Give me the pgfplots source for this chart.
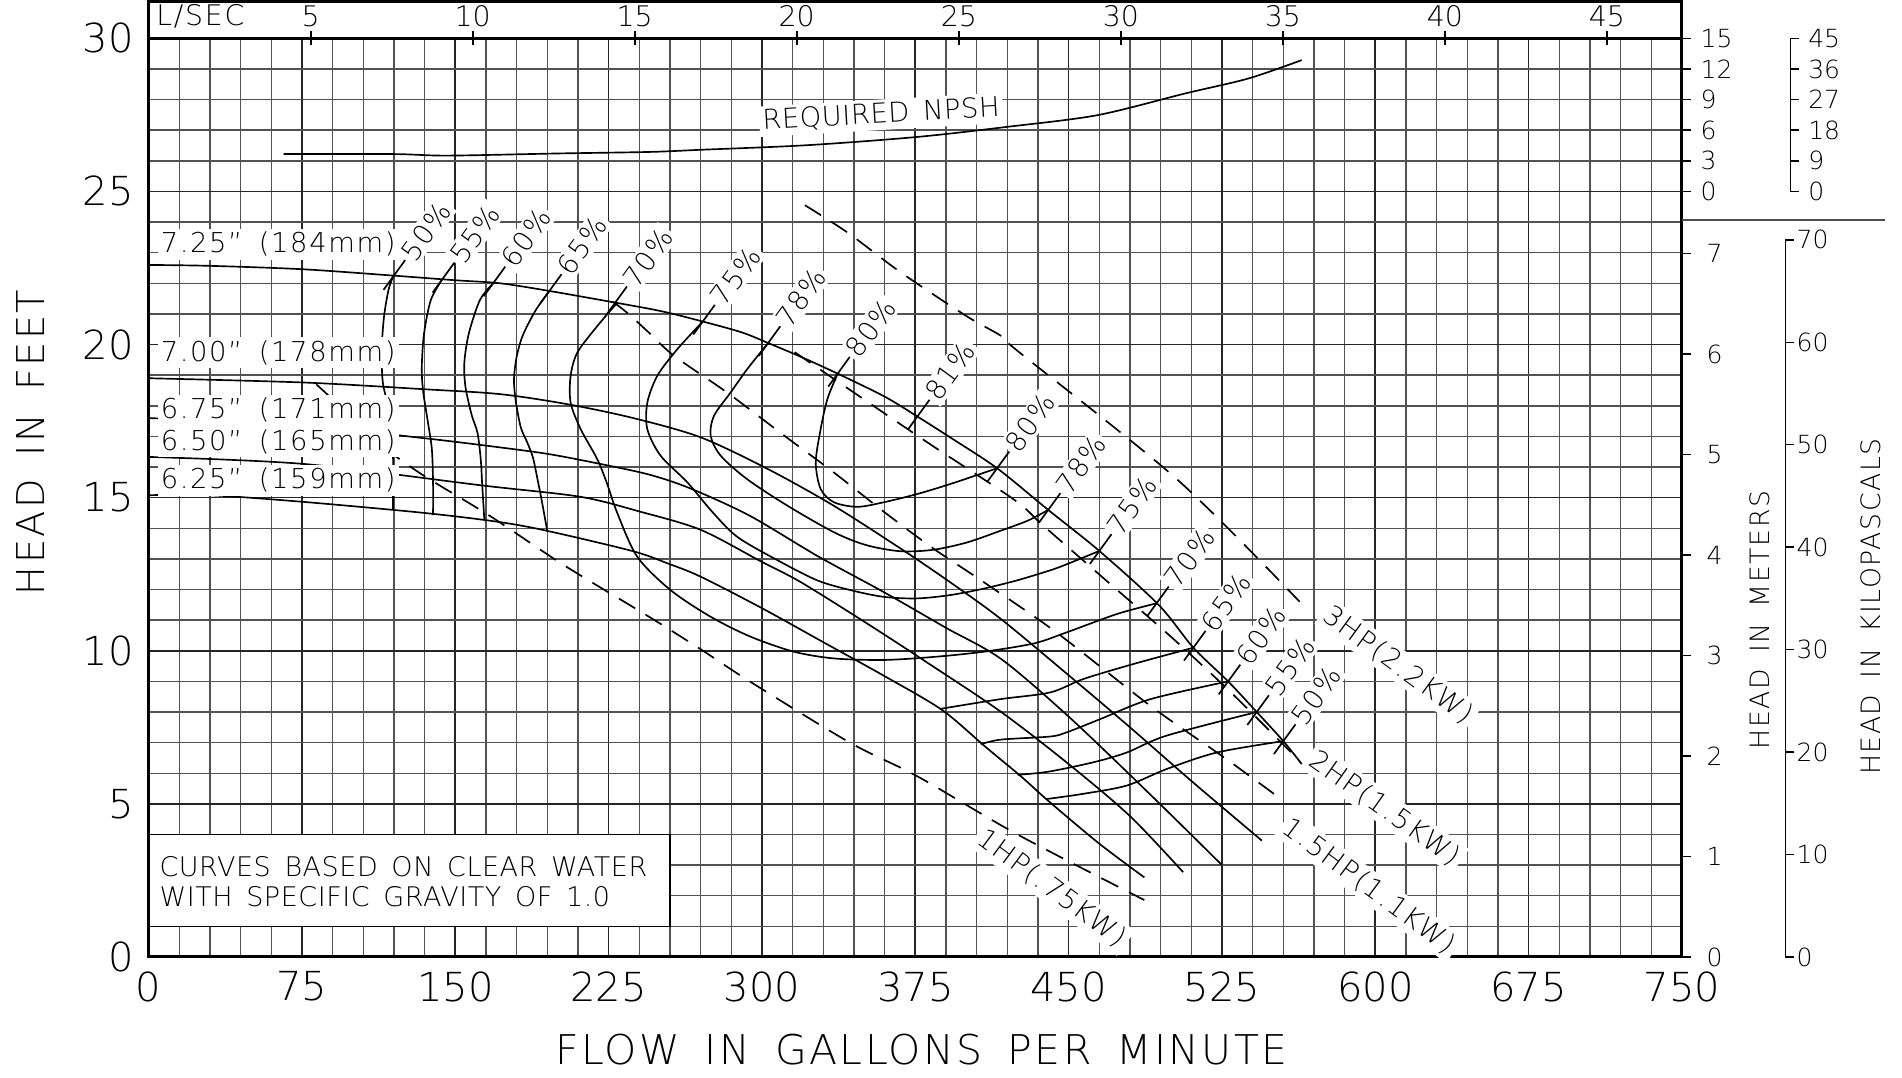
\documentclass[border=0pt]{standalone}
\usepackage{fontspec}
\setmainfont{DejaVuSans-ExtraLight}[Extension=.ttf]
\newfontfamily\lbl{DejaVuSans-ExtraLight}[Extension=.ttf, LetterSpace=6, WordSpace=1.6]
\newfontfamily\lbs{DejaVuSans-ExtraLight}[Extension=.ttf, LetterSpace=2, WordSpace=1.5]
\usepackage{pgfplots}
\pgfplotsset{compat=1.18}

\tikzset{
  curve/.style={black, line width=0.5pt},
  pw/.style={black, line width=0.5pt, dash pattern=on 5.7pt off 3.6pt},
  efflabel/.style={rotate=54, anchor=west, fill=white, inner sep=0.8pt, font=\lbl\fontsize{8.2}{9}\selectfont},
  pwlabel/.style={fill=white, inner sep=1pt, font=\lbl\fontsize{8.2}{9}\selectfont},
  dialabel/.style={anchor=west, fill=white, inner sep=1pt, font=\lbl\fontsize{8.2}{9}\selectfont},
  rlab/.style={anchor=west, inner sep=0pt, font=\fontsize{7.5}{8}\selectfont},
}
% efficiency tick across the 7.25" curve, label along it
\newcommand{\eff}[3]{\draw[curve] (axis cs:#1,#2) ++(234:4.8pt) -- ++(54:11pt) node[efflabel]{#3\%};}
% L/SEC tick on the top edge
\newcommand{\topt}[2]{\draw[line width=0.5pt] ([yshift=-2.1pt]axis cs:#1,30) -- ([yshift=2.1pt]axis cs:#1,30) node[above, inner sep=1pt, font=\fontsize{8.5}{9}\selectfont]{#2};}
% right-hand scale tick: head ft, line shift, label shift, text
\newcommand{\rt}[4]{\draw[line width=0.45pt] ([xshift=#2]axis cs:750,#1) -- ++(2.6pt,0); \node[rlab] at ([xshift=#3]axis cs:750,#1) {#4};}

\begin{document}
\begin{tikzpicture}
\useasboundingbox (-44.6pt,-36.3pt) rectangle (526pt,287.1pt);
\begin{axis}[
  scale only axis, width=460pt, height=275.6pt,
  xmin=0, xmax=750, ymin=0, ymax=30,
  xtick={0,75,...,750}, ytick={0,5,...,30},
  minor x tick num=4, minor y tick num=4,
  grid=both,
  major grid style={black!85, line width=0.5pt},
  minor grid style={black!68, line width=0.45pt},
  major tick length=0pt, minor tick length=0pt,
  axis line style={line width=0.9pt},
  clip=false,
  /pgf/number format/assume math mode=true,
  ticklabel style={font=\fontsize{12}{12}\selectfont},
  xticklabel style={yshift=-0.8pt},
  yticklabel style={xshift=-1pt},
]

% ---- head curves by impeller diameter
\addplot[curve, smooth] coordinates {(0,22.60) (30,22.57) (75,22.46) (120,22.25) (150,22.10) (172,22.00) (196,21.75) (224,21.42) (250,21.10) (270,20.77) (290,20.40) (303,20.05) (319,19.60) (337,19.05) (360,18.30) (376,17.65) (392,16.97) (415,15.96) (440,14.60) (465,13.26) (494,11.50) (511,10.10) (528,9.00) (542,8.00) (555,7.05) (564,6.30)};
\addplot[curve, smooth] coordinates {(0,18.90) (76,18.76) (135,18.54) (172,18.38) (205,18.05) (237,17.60) (270,16.97) (303,15.93) (335,14.74) (368,13.33) (392,12.24) (417,11.03) (450,9.20) (480,7.50) (510,5.75) (544.5,3.80)};
\addplot[curve, smooth] coordinates {(0,17.60) (76,17.35) (135,16.94) (172,16.64) (196,16.42) (221,16.10) (245,15.75) (265,15.30) (294,14.41) (327,13.10) (360,11.90) (390,10.75) (417,9.73) (450,7.85) (490,5.30) (525,3.00)};
\addplot[curve, smooth] coordinates {(0,16.33) (76,16.10) (163,15.40) (211,15.03) (240,14.55) (270,13.95) (300,12.90) (319,12.24) (350,10.95) (380,9.65) (417,8.00) (450,6.30) (480,4.60) (506,2.77)};
\addplot[curve, smooth] coordinates {(0,15.08) (30,15.08) (76,14.86) (135,14.50) (172,14.20) (196,13.90) (237,13.25) (254,12.85) (270,12.42) (300,11.39) (330,10.28) (360,9.17) (388,8.07) (409,6.88) (427,5.88) (440,5.10) (465,3.70) (487,2.60)};

% ---- required NPSH
\addplot[curve, smooth] coordinates {(66,26.22) (120,26.22) (146,26.17) (200,26.24) (245,26.29) (270,26.36) (322,26.51) (376,26.78) (420,27.11) (464,27.49) (507,28.20) (538,28.69) (564,29.29)};

% ---- efficiency contours
\addplot[curve, smooth] coordinates {(119.5,22.21) (117.3,21.78) (115.1,20.90) (114.0,19.82) (114.6,18.73) (118.4,17.64) (119.5,16.55) (119.5,14.60)};
\addplot[curve, smooth] coordinates {(143.5,22.12) (138,21.45) (134.7,20.36) (133.6,19.27) (134.2,18.50) (136.5,17.50) (138.5,16.60) (139.1,15.50) (139.1,14.43)};
\addplot[curve, smooth] coordinates {(168.5,22.00) (162,21.45) (156.6,20.36) (154.4,19.40) (155.0,18.60) (158,17.70) (160.9,17.10) (162.5,16.20) (163.1,15.47) (164.2,14.27)};
\addplot[curve, smooth] coordinates {(196,21.75) (189.3,21.12) (183,20.30) (180,19.60) (178.7,18.87) (179.5,18.18) (182,17.30) (185.2,16.80) (188,16.30) (190.5,15.50) (192,15.00) (195,13.90)};
\addplot[curve, smooth] coordinates {(229,21.35) (219.4,20.60) (209.7,19.74) (206.4,18.98) (206.4,18.10) (211.3,17.24) (219.4,16.26) (224,15.50) (229.2,14.50) (239,13.07) (255.3,11.98) (274.9,11.11) (294.4,10.46) (315.6,9.97) (335.2,9.75) (359.6,9.70) (384.1,9.80) (408.6,9.97) (433,10.24) (449,10.60) (473.6,11.20) (493,11.55)};
\addplot[curve, smooth] coordinates {(271,20.75) (258.6,19.85) (248.8,18.98) (243.9,18.10) (243.9,17.24) (250.4,16.37) (263.5,15.50) (275.5,14.55) (287.9,13.72) (307.5,12.96) (327,12.30) (343.3,11.98) (359.6,11.76) (375.9,11.71) (392.2,11.82) (408.5,12.03) (424.8,12.30) (441.1,12.63) (449.2,12.83) (465,13.26)};
\addplot[curve, smooth] coordinates {(303,20.05) (292.8,19.20) (284.6,18.43) (276.5,17.67) (274.9,17.02) (279.8,16.37) (292.8,15.60) (312.4,14.74) (335.2,13.87) (351,13.45) (367.8,13.25) (384,13.30) (400.4,13.54) (416.7,13.92) (430,14.25) (440,14.60)};
\addplot[curve, smooth] coordinates {(337,19.05) (332,18.22) (328.7,17.24) (326.3,16.15) (328.7,15.28) (335.2,14.85) (346.6,14.70) (359.6,14.85) (376,15.12) (392.3,15.45) (415,15.96)};
\addplot[curve, smooth] coordinates {(387,8.10) (416.6,8.42) (441,8.64) (457.3,9.08) (481.8,9.57) (511,10.10)};
\addplot[curve, smooth] coordinates {(407,6.95) (417,7.10) (441,7.20) (449.2,7.34) (465.5,7.77) (490,8.42) (528,9.00)};
\addplot[curve, smooth] coordinates {(425,5.95) (440,6.05) (462.2,6.36) (478.5,6.68) (498,7.23) (542,8.00)};
\addplot[curve, smooth] coordinates {(439.4,5.16) (457.3,5.33) (478.5,5.60) (498,6.14) (522.6,6.68) (555,7.05)};

% ---- horsepower lines
\addplot[pw, smooth] coordinates {(82,18.70) (102,17.48) (117,16.55) (135,15.70) (167,14.40) (203,12.80) (245,11.10) (270,10.05) (294,9.00) (343,7.00) (376,5.90) (425,4.00) (487,1.86)};
\addplot[pw, smooth] coordinates {(227,21.40) (234,21.04) (245,20.37) (257,19.63) (283,18.43) (311,17.02) (335,15.83) (360,14.52) (384,13.33) (408.5,12.24) (444,10.60) (490,8.20) (527,6.47) (555,5.10)};
\addplot[pw, smooth] coordinates {(316,19.75) (345,18.43) (381,16.80) (423,14.95) (436,14.18) (449,13.42) (470,12.20) (501,10.40) (530,8.60) (560,6.60)};
\addplot[pw, smooth] coordinates {(321,24.55) (342,23.65) (368,22.35) (400,20.93) (417,20.28) (424.5,19.82) (503,15.60) (563,11.60)};

% ---- efficiency marks on the 7.25" curve
\eff{119.5}{22.21}{50}
\eff{143.5}{22.12}{55}
\eff{168.5}{22.00}{60}
\eff{196}{21.75}{65}
\eff{228}{21.35}{70}
\eff{271}{20.75}{75}
\eff{303}{20.05}{78}
\eff{337}{19.05}{80}
\eff{376}{17.65}{81}
\eff{415}{15.96}{80}
\eff{440}{14.60}{78}
\eff{465}{13.26}{75}
\eff{493}{11.55}{70}
\eff{511}{10.10}{65}
\eff{528}{9.00}{60}
\eff{542}{8.00}{55}
\eff{555}{7.05}{50}

% ---- labels
\node[dialabel] at (axis cs:4,23.28) {7.25” (184mm)};
\node[dialabel] at (axis cs:4,19.74) {7.00” (178mm)};
\node[dialabel] at (axis cs:4,17.86) {6.75” (171mm)};
\node[dialabel] at (axis cs:4,16.82) {6.50” (165mm)};
\node[dialabel] at (axis cs:4,15.57) {6.25” (159mm)};
\node[pwlabel, rotate=-36.5] at (axis cs:441.8,2.24) {1HP(.75KW)};
\node[pwlabel, rotate=-36.6] at (axis cs:597,2.30) {1.5HP(1.1KW)};
\node[pwlabel, rotate=-35.2] at (axis cs:604.6,4.85) {2HP(1.5KW)};
\node[pwlabel, rotate=-36] at (axis cs:611.2,9.53) {3HP(2.2KW)};
\node[pwlabel, anchor=base west, rotate=3.3, font=\lbs\fontsize{8.2}{9}\selectfont] at (axis cs:298.6,27.0) {REQUIRED NPSH};

\draw[fill=white, line width=0.5pt] (axis cs:0,1) rectangle (axis cs:255,4);
\draw[line width=0.9pt] (axis cs:0,1) -- (axis cs:0,4);
\node[anchor=west, inner sep=0pt, font=\lbs\fontsize{8.1}{9}\selectfont] at (axis cs:5,2.95) {CURVES BASED ON CLEAR WATER};
\node[anchor=west, inner sep=0pt, font=\lbs\fontsize{8.1}{9}\selectfont] at (axis cs:5,1.97) {WITH SPECIFIC GRAVITY OF 1.0};

% ---- axis titles
\node[font=\lbl\fontsize{12.3}{13}\selectfont] at ([yshift=-27.9pt]axis cs:378,0) {FLOW IN GALLONS PER MINUTE};
\node[rotate=90, font=\lbl\fontsize{11.5}{12}\selectfont] at ([xshift=-35.3pt]axis cs:0,16.8) {HEAD IN FEET};
\node[rotate=90, font=\lbl\fontsize{8}{9}\selectfont] at ([xshift=23.3pt]axis cs:750,11.0) {HEAD IN METERS};
\node[rotate=90, font=\lbl\fontsize{8}{9}\selectfont] at ([xshift=56.7pt]axis cs:750,11.44) {HEAD IN KILOPASCALS};

% ---- top L/SEC strip
\draw[line width=0.9pt] (axis cs:0,30) -- (axis cs:0,31.2) -- (axis cs:750,31.2) -- (axis cs:750,30);
\node[anchor=south west, inner sep=0pt, font=\lbl\fontsize{8.5}{9}\selectfont] at ([yshift=3pt]axis cs:3.5,30) {L/SEC};
\topt{79.25}{5} \topt{158.5}{10} \topt{237.75}{15} \topt{317.0}{20} \topt{396.26}{25}
\topt{475.5}{30} \topt{554.8}{35} \topt{634.0}{40} \topt{713.3}{45}

% ---- right-hand scales
\rt{0}{0pt}{7.2pt}{0} \rt{3.2808}{0pt}{7.2pt}{1} \rt{6.5617}{0pt}{7.2pt}{2} \rt{9.8425}{0pt}{7.2pt}{3}
\rt{13.1234}{0pt}{7.2pt}{4} \rt{16.4042}{0pt}{7.2pt}{5} \rt{19.685}{0pt}{7.2pt}{6} \rt{22.9659}{0pt}{7.2pt}{7}
\rt{25}{0pt}{5.4pt}{0} \rt{26}{0pt}{5.4pt}{3} \rt{27}{0pt}{5.4pt}{6} \rt{28}{0pt}{5.4pt}{9} \rt{29}{0pt}{5.4pt}{12} \rt{30}{0pt}{5.4pt}{15}
\draw[line width=0.45pt] ([xshift=32.5pt]axis cs:750,25) -- ([xshift=32.5pt]axis cs:750,30);
\rt{25}{32.5pt}{37.7pt}{0} \rt{26}{32.5pt}{37.7pt}{9} \rt{27}{32.5pt}{37.7pt}{18} \rt{28}{32.5pt}{37.7pt}{27} \rt{29}{32.5pt}{37.7pt}{36} \rt{30}{32.5pt}{37.7pt}{45}
\draw[line width=0.45pt] ([xshift=31pt]axis cs:750,0) -- ([xshift=31pt]axis cs:750,23.4192);
\rt{0}{31pt}{34.2pt}{0} \rt{3.3456}{31pt}{34.2pt}{10} \rt{6.6912}{31pt}{34.2pt}{20} \rt{10.0368}{31pt}{34.2pt}{30}
\rt{13.3824}{31pt}{34.2pt}{40} \rt{16.728}{31pt}{34.2pt}{50} \rt{20.0736}{31pt}{34.2pt}{60} \rt{23.4192}{31pt}{34.2pt}{70}
\draw[black!70, line width=0.45pt] (axis cs:750,24.06) -- ++(60.8pt,0);

\end{axis}
\end{tikzpicture}
\end{document}
